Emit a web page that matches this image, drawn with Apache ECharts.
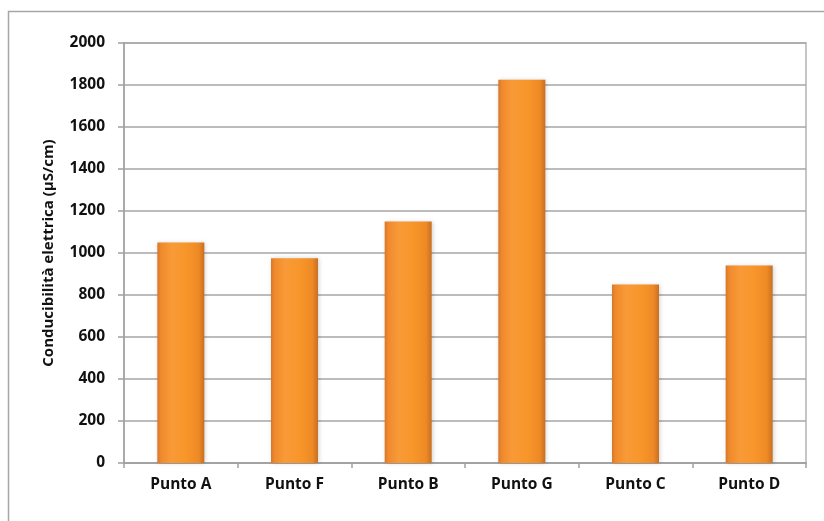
<!DOCTYPE html>
<html>
<head>
<meta charset="utf-8">
<script src="https://cdn.jsdelivr.net/npm/echarts@6/dist/echarts.min.js"></script>
<style>html,body{margin:0;padding:0;background:#fff}#c{width:824px;height:521px}</style>
</head>
<body>
<div id="c"></div>
<script>
var categories = ['Punto A', 'Punto F', 'Punto B', 'Punto G', 'Punto C', 'Punto D'];
var values = [1050, 975, 1150, 1825, 850, 940];
var yTicks = [0, 200, 400, 600, 800, 1000, 1200, 1400, 1600, 1800, 2000];
var yTitle = 'Conducibilità elettrica (µS/cm)';

var chart = echarts.init(document.getElementById('c'), null, {renderer: 'canvas'});
var font = '"Open Sans", "DejaVu Sans", sans-serif';
chart.setOption({
  animation: false,
  backgroundColor: '#fff',
  graphic: [{
    type: 'rect', silent: true, z: -10,
    shape: {x: 8.5, y: 11.5, width: 830, height: 530},
    style: {fill: 'none', stroke: '#a6a6a6', lineWidth: 1.5}
  }],
  grid: {left: 124, right: 18, top: 43, bottom: 58, show: true, borderColor: '#c6c6c6', borderWidth: 2, backgroundColor: 'transparent'},
  xAxis: {
    type: 'category',
    data: categories,
    axisLine: {lineStyle: {color: '#a0a0a0', width: 1.5}},
    axisTick: {show: true, length: 5, interval: 0, alignWithLabel: false, lineStyle: {color: '#a0a0a0', width: 1.5}},
    axisLabel: {margin: 14, color: '#111', fontFamily: font, fontWeight: 'bold', fontSize: 15.5, interval: 0}
  },
  yAxis: {
    type: 'value',
    min: yTicks[0], max: yTicks[yTicks.length - 1], interval: 200,
    name: yTitle,
    nameLocation: 'middle',
    nameGap: 68,
    nameTextStyle: {color: '#111', fontFamily: font, fontWeight: 'bold', fontSize: 15},
    axisLine: {show: true, lineStyle: {color: '#a0a0a0', width: 1.5}},
    axisTick: {show: true, length: 6, lineStyle: {color: '#a0a0a0', width: 1.5}},
    axisLabel: {margin: 19, color: '#111', fontFamily: font, fontWeight: 'bold', fontSize: 15.5,
      formatter: function (v) { return String(v); }},
    splitLine: {lineStyle: {color: '#a6a6a6', width: 1.5}}
  },
  series: [{
    type: 'bar',
    data: values,
    barWidth: 47,
    itemStyle: {
      color: {
        type: 'linear', x: 0, y: 0, x2: 1, y2: 0,
        colorStops: [
          {offset: 0, color: '#d8772a'},
          {offset: 0.08, color: '#f08a2c'},
          {offset: 0.3, color: '#f89a38'},
          {offset: 0.6, color: '#f8962a'},
          {offset: 0.88, color: '#ee8a25'},
          {offset: 1, color: '#c76f22'}
        ]
      },
      shadowColor: 'rgba(0,0,0,0.18)',
      shadowBlur: 4,
      shadowOffsetX: 1
    }
  }]
});
</script>
</body>
</html>
